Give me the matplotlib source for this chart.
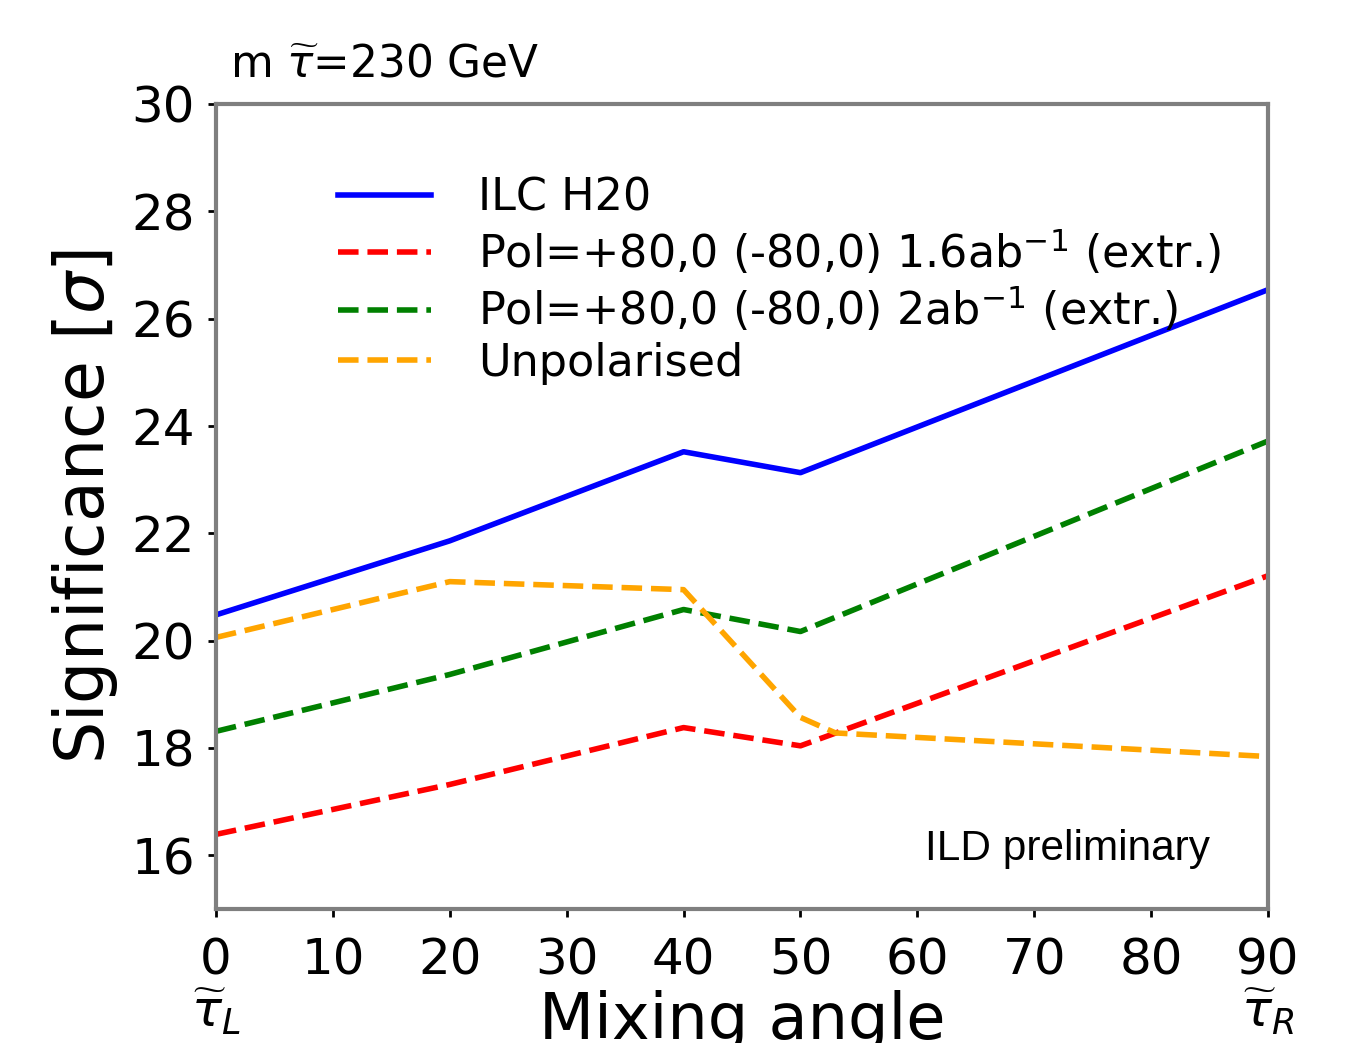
import matplotlib
matplotlib.use("Agg")
import matplotlib.pyplot as plt

# Data
angle_main = [0, 20, 40, 50, 90]
ilc_h20 = [20.48, 21.86, 23.52, 23.13, 26.54]
pol_16 = [16.39, 17.32, 18.38, 18.04, 21.21]
pol_2 = [18.31, 19.37, 20.58, 20.17, 23.72]
angle_unpol = [0, 20, 40, 50, 53, 90]
unpol = [20.06, 21.10, 20.95, 18.57, 18.28, 17.84]

xticks = [0, 10, 20, 30, 40, 50, 60, 70, 80, 90]
xticklabels = ["0\n" + r"$\widetilde{\tau}_L$", "10", "20", "30", "40", "50", "60", "70", "80",
               "90\n" + r"$\widetilde{\tau}_R$"]
yticks = [16, 18, 20, 22, 24, 26, 28, 30]

labels = ["ILC H20",
          r"Pol=+80,0 (-80,0) 1.6ab$^{-1}$ (extr.)",
          r"Pol=+80,0 (-80,0) 2ab$^{-1}$ (extr.)",
          "Unpolarised"]

fig = plt.figure(figsize=(13.61, 10.43), dpi=100)
ax = fig.add_axes([0.1587, 0.1285, 0.9317 - 0.1587, 0.9003 - 0.1285])

lw = 4.0
ax.plot(angle_main, ilc_h20, color="blue", lw=lw, label=labels[0])
ax.plot(angle_main, pol_16, color="red", lw=lw, ls="--", label=labels[1])
ax.plot(angle_main, pol_2, color="green", lw=lw, ls="--", label=labels[2])
ax.plot(angle_unpol, unpol, color="orange", lw=lw, ls="--", label=labels[3])

ax.set_xlim(0, 90)
ax.set_ylim(15, 30)
ax.set_xticks(xticks)
ax.set_xticklabels(xticklabels, fontsize=36, linespacing=1.05)
for lab in ax.get_xticklabels():
    lab.set_verticalalignment("top")
ax.set_yticks(yticks)
ax.set_yticklabels([str(v) for v in yticks], fontsize=36)
ax.tick_params(direction="out", length=6, width=2)
ax.tick_params(axis="x", pad=14)
ax.tick_params(axis="y", pad=9)

for sp in ax.spines.values():
    sp.set_color("#7f7f7f")
    sp.set_linewidth(3)

ax.set_ylabel(r"Significance [$\sigma$]", fontsize=48, labelpad=8)
ax.set_xlabel("Mixing angle", fontsize=46, labelpad=-34)

leg = ax.legend(loc="upper left", bbox_to_anchor=(0.078, 0.96), frameon=False,
                fontsize=32, handlelength=2.1, handletextpad=1.05, labelspacing=0.17)

ax.text(0.013, 1.05, r"m $\widetilde{\tau}$=230 GeV", transform=ax.transAxes,
        fontsize=31.5, ha="left", va="center")
ax.text(0.945, 0.075, "ILD preliminary", transform=ax.transAxes,
        fontsize=30.5, ha="right", va="center", family="Liberation Sans")

fig.savefig("out.png", dpi=100)
